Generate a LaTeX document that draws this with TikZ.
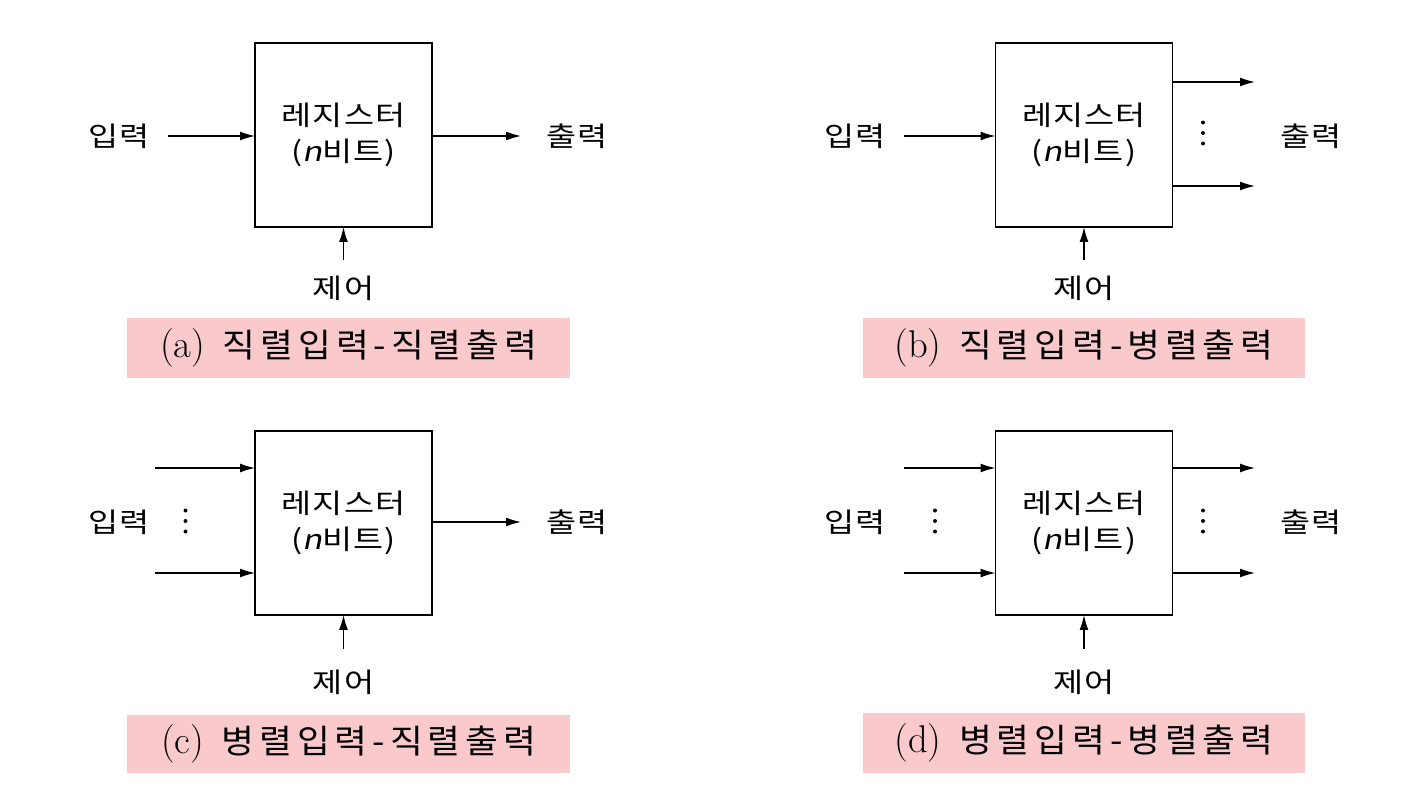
\documentclass[tikz,border=0pt]{standalone}
\usepackage{fontspec}
\usetikzlibrary{arrows.meta}
\newfontfamily\kr[FakeStretch=1.2, LetterSpace=4]{Noto Sans CJK KR}
\newfontfamily\krcap[FakeStretch=1.08, LetterSpace=15]{Noto Sans CJK KR}
\newfontfamily\krn[FakeSlant=0.2, FakeStretch=1.2]{Noto Sans CJK KR}
\definecolor{cappink}{RGB}{250,201,204}
\begin{document}
\begin{tikzpicture}[x=0.02cm, y=-0.02cm,
    regbox/.style={draw, line width=0.8pt, minimum width=3.54cm, minimum height=3.68cm,
        align=center, inner sep=0pt, outer sep=0pt, font=\fontsize{15.5}{20.4}\selectfont\kr},
    lbl/.style={inner sep=0pt, font=\fontsize{15.5}{18}\selectfont\kr},
    caption/.style={fill=cappink, minimum width=8.85cm, minimum height=1.2cm, inner sep=0pt,
        font=\fontsize{18.8}{22}\selectfont},
    flow/.style={line width=0.8pt, -{Latex[length=0.3cm,width=0.18cm]}}]
    \useasboundingbox (0,0) rectangle (1411,808);

    % (a) 직렬입력 - 직렬출력
    \node[regbox] (reg_a) at (343.5,135) {레지스터\\({\krn n}비트)};
    \node[lbl] (inlab_a) at (119,136) {입력};
    \node[lbl] (outlab_a) at (577,136) {출력};
    \node[lbl] (ctllab_a) at (343.5,288) {제어};
    \coordinate (in_a) at (168,136);
    \coordinate (out_a) at (521,136);
    \coordinate (ctl_a) at (343.5,260);
    \draw[flow] (in_a) -- (in_a -| reg_a.west);
    \draw[flow] (reg_a.east |- out_a) -- (out_a);
    \draw[flow] (ctl_a) -- (reg_a.south);
    \node[caption] (cap_a) at (348.7,348) {{\fontsize{22}{24}\selectfont(a)}\hspace{0.35cm}{\krcap 직렬입력-직렬출력}};

    % (b) 직렬입력 - 병렬출력
    \node[regbox] (reg_b) at (1084,135) {레지스터\\({\krn n}비트)};
    \node[lbl] (inlab_b) at (855,136) {입력};
    \node[lbl] (outlab_b) at (1311,136) {출력};
    \node[lbl] (ctllab_b) at (1084,288) {제어};
    \coordinate (in_b) at (904,136);
    \coordinate (out1_b) at (1255,82);
    \coordinate (out2_b) at (1255,186);
    \coordinate (ctl_b) at (1084,260);
    \draw[flow] (in_b) -- (in_b -| reg_b.west);
    \draw[flow] (reg_b.east |- out1_b) -- (out1_b);
    \draw[flow] (reg_b.east |- out2_b) -- (out2_b);
    \draw[flow] (ctl_b) -- (reg_b.south);
    \foreach \dy in {-10.5,0,10.5}
        \fill (1203,{133+\dy}) circle[radius=0.04cm];
    \node[caption] (cap_b) at (1084,348) {{\fontsize{22}{24}\selectfont(b)}\hspace{0.35cm}{\krcap 직렬입력-병렬출력}};

    % (c) 병렬입력 - 직렬출력
    \node[regbox] (reg_c) at (343.5,523) {레지스터\\({\krn n}비트)};
    \node[lbl] (inlab_c) at (119,522) {입력};
    \node[lbl] (outlab_c) at (577,522) {출력};
    \node[lbl] (ctllab_c) at (343.5,682) {제어};
    \coordinate (in1_c) at (155,468);
    \coordinate (in2_c) at (155,573);
    \coordinate (out_c) at (521,522);
    \coordinate (ctl_c) at (343.5,649);
    \draw[flow] (in1_c) -- (in1_c -| reg_c.west);
    \draw[flow] (in2_c) -- (in2_c -| reg_c.west);
    \draw[flow] (reg_c.east |- out_c) -- (out_c);
    \draw[flow] (ctl_c) -- (reg_c.south);
    \foreach \dy in {-10.5,0,10.5}
        \fill (185.5,{521+\dy}) circle[radius=0.04cm];
    \node[caption, minimum height=1.16cm] (cap_c) at (348.7,744) {{\fontsize{22}{24}\selectfont(c)}\hspace{0.35cm}{\krcap 병렬입력-직렬출력}};

    % (d) 병렬입력 - 병렬출력
    \node[regbox] (reg_d) at (1084,523) {레지스터\\({\krn n}비트)};
    \node[lbl] (inlab_d) at (855,522) {입력};
    \node[lbl] (outlab_d) at (1311,522) {출력};
    \node[lbl] (ctllab_d) at (1084,682) {제어};
    \coordinate (in1_d) at (904,468);
    \coordinate (in2_d) at (904,573);
    \coordinate (out1_d) at (1255,468);
    \coordinate (out2_d) at (1255,573);
    \coordinate (ctl_d) at (1084,649);
    \draw[flow] (in1_d) -- (in1_d -| reg_d.west);
    \draw[flow] (in2_d) -- (in2_d -| reg_d.west);
    \draw[flow] (reg_d.east |- out1_d) -- (out1_d);
    \draw[flow] (reg_d.east |- out2_d) -- (out2_d);
    \draw[flow] (ctl_d) -- (reg_d.south);
    \foreach \dy in {-10.5,0,10.5} {
        \fill (935,{521+\dy}) circle[radius=0.04cm];
        \fill (1203,{521+\dy}) circle[radius=0.04cm];
    }
    \node[caption] (cap_d) at (1084,743) {{\fontsize{22}{24}\selectfont(d)}\hspace{0.35cm}{\krcap 병렬입력-병렬출력}};
\end{tikzpicture}
\end{document}
